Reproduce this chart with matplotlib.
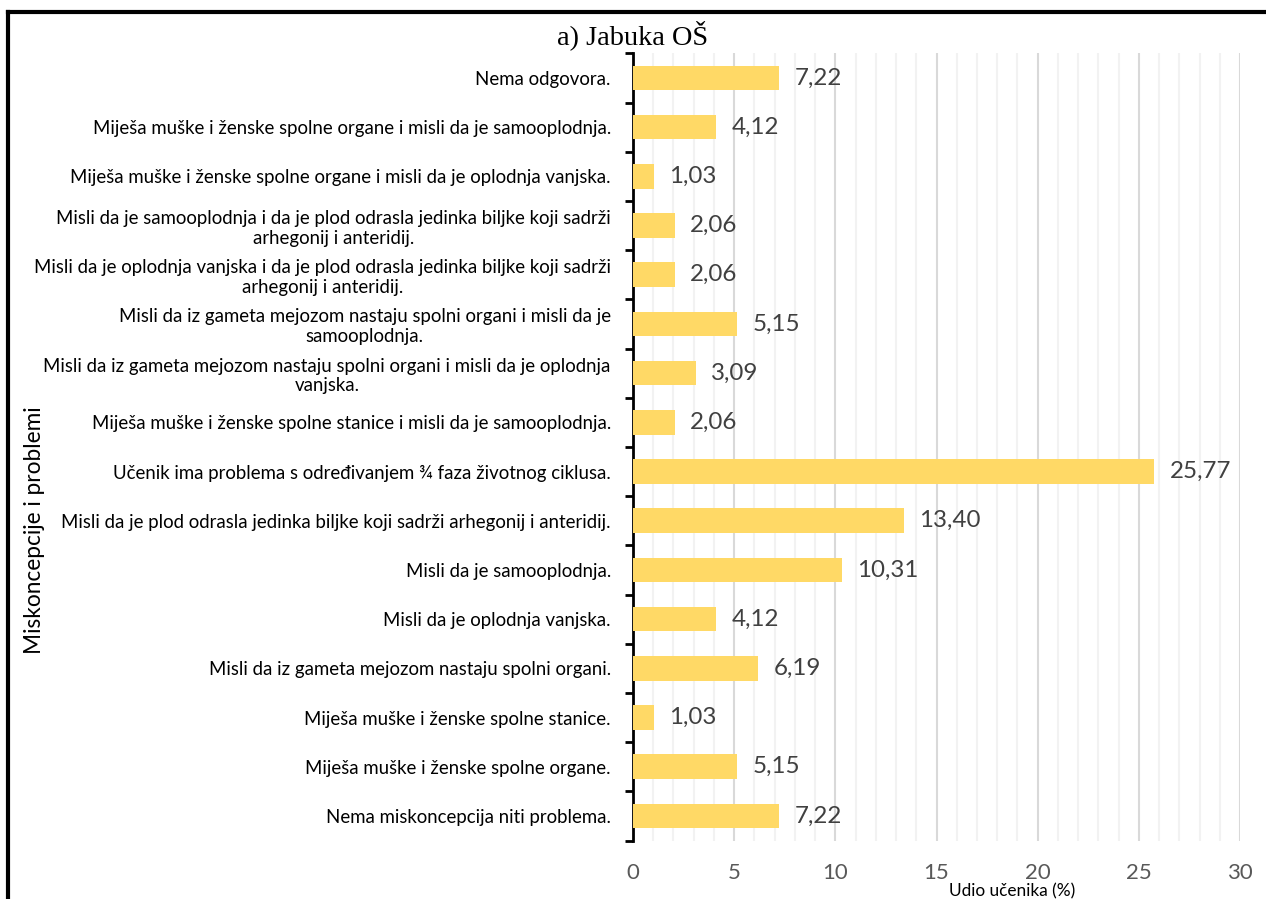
import matplotlib.pyplot as plt
from matplotlib.lines import Line2D
from matplotlib.ticker import MultipleLocator
import numpy as np

# kategorije odozgo prema dolje
kategorije = [
    "Nema odgovora.",
    "Miješa muške i ženske spolne organe i misli da je samooplodnja.",
    "Miješa muške i ženske spolne organe i misli da je oplodnja vanjska.",
    "Misli da je samooplodnja i da je plod odrasla jedinka biljke koji sadrži\narhegonij i anteridij.",
    "Misli da je oplodnja vanjska i da je plod odrasla jedinka biljke koji sadrži\narhegonij i anteridij.",
    "Misli da iz gameta mejozom nastaju spolni organi i misli da je\nsamooplodnja.",
    "Misli da iz gameta mejozom nastaju spolni organi i misli da je oplodnja\nvanjska.",
    "Miješa muške i ženske spolne stanice i misli da je samooplodnja.",
    "Učenik ima problema s određivanjem ¾ faza životnog ciklusa.",
    "Misli da je plod odrasla jedinka biljke koji sadrži arhegonij i anteridij.",
    "Misli da je samooplodnja.",
    "Misli da je oplodnja vanjska.",
    "Misli da iz gameta mejozom nastaju spolni organi.",
    "Miješa muške i ženske spolne stanice.",
    "Miješa muške i ženske spolne organe.",
    "Nema miskoncepcija niti problema.",
]
udio = [7.22, 4.12, 1.03, 2.06, 2.06, 5.15, 3.09, 2.06,
        25.77, 13.40, 10.31, 4.12, 6.19, 1.03, 5.15, 7.22]

plt.rcParams['font.family'] = ['Lato', 'DejaVu Sans']

fig = plt.figure(figsize=(12.66, 8.99), dpi=100)
ax = fig.add_axes([0.5, 0.065, 0.4795, 0.8756])

y = np.arange(len(kategorije))[::-1]
bars = ax.barh(y, udio, height=0.5, color="#FFD966", zorder=3)

lbl = [f"{v:.2f}".replace(".", ",") for v in udio]
ax.bar_label(bars, labels=lbl, padding=11, fontsize=17.4, color="#404040")

ax.set_xlim(0, 30)
ax.set_ylim(-0.5, len(kategorije) - 0.5)
ax.xaxis.set_major_locator(MultipleLocator(5))
ax.xaxis.set_minor_locator(MultipleLocator(1))
ax.grid(which="major", axis="x", color="#D9D9D9", linewidth=1.5, zorder=0)
ax.grid(which="minor", axis="x", color="#F2F2F2", linewidth=1.5, zorder=0)
ax.tick_params(axis="x", which="both", length=0, labelsize=16,
               labelcolor="#595959", pad=16)

ax.set_yticks(y)
ax.set_yticklabels(kategorije, fontsize=13.4, multialignment="center")
ax.set_yticks(np.arange(-0.5, len(kategorije)), minor=True)
ax.tick_params(axis="y", which="major", length=0, pad=16)
ax.tick_params(axis="y", which="minor", length=6, width=2, color="black")

for s in ["top", "right", "bottom"]:
    ax.spines[s].set_visible(False)
ax.spines["left"].set_linewidth(2)

fig.text(0.5, 1 - 35 / 899, "a) Jabuka OŠ", ha="center", va="center",
         fontsize=20.4, family=["Liberation Serif"])
fig.text(35 / 1266, 1 - 530 / 899, "Miskoncepcije i problemi", rotation=90,
         ha="center", va="center", fontsize=16.3)
fig.text(1012 / 1266, 1 - 891 / 899, "Udio učenika (%)", ha="center",
         va="center", fontsize=12.4)

# okvir slike
fig.add_artist(Line2D([8 / 1266, 8 / 1266], [0, 1 - 12 / 899],
                      transform=fig.transFigure, color="black", linewidth=3))
fig.add_artist(Line2D([8 / 1266, 1], [1 - 12 / 899, 1 - 12 / 899],
                      transform=fig.transFigure, color="black", linewidth=3))

fig.savefig("out.png", dpi=100)
